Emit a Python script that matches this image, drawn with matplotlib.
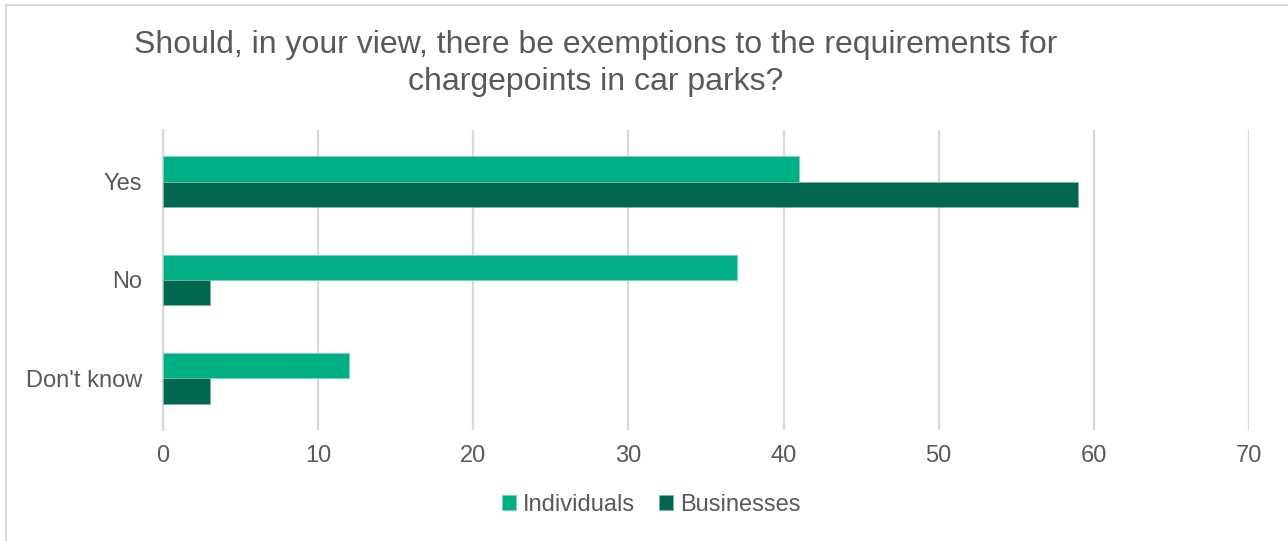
import numpy as np
import matplotlib.pyplot as plt
from matplotlib.patches import Rectangle

categories = ["Yes", "No", "Don't know"]
individuals = [41, 37, 12]
businesses = [59, 3, 3]
x_ticks = [0, 10, 20, 30, 40, 50, 60, 70]

light = "#00b084"
dark = "#02674f"
text_col = "#595959"

plt.rcParams['font.family'] = ['Liberation Sans', 'DejaVu Sans']

fig = plt.figure(figsize=(12.88, 5.41), dpi=100)
ax = fig.add_axes([163 / 1288, 1 - 430 / 541, (1249 - 163) / 1288, 300 / 541])

y = np.arange(len(categories))
h = 0.26
ax.barh(y - h / 2, individuals, height=h, color=light, edgecolor="#7fd3bd",
        linewidth=0.6, label="Individuals", zorder=3)
ax.barh(y + h / 2, businesses, height=h, color=dark, edgecolor="#7fb3a6",
        linewidth=0.6, label="Businesses", zorder=3)

ax.set_xlim(0, 70)
ax.set_ylim(2.53, -0.53)
ax.set_xticks(x_ticks)
ax.set_yticks(y)
ax.set_yticklabels(categories)
ax.tick_params(axis="both", length=0, labelsize=17, labelcolor=text_col)
ax.tick_params(axis="x", pad=11)
ax.tick_params(axis="y", pad=15)
ax.grid(axis="x", color="#d9d9d9", linewidth=1.6, zorder=0)
for s in ["top", "right", "bottom"]:
    ax.spines[s].set_visible(False)
ax.spines["left"].set_color("#d9d9d9")
ax.spines["left"].set_linewidth(1.6)

fig.text(596 / 1288, 1 - 45 / 541,
         "Should, in your view, there be exemptions to the requirements for",
         ha="center", va="center", fontsize=23, color=text_col)
fig.text(596 / 1288, 1 - 82 / 541, "chargepoints in car parks?",
         ha="center", va="center", fontsize=23, color=text_col)

fig.legend(loc="center", bbox_to_anchor=(651 / 1288, 1 - 505 / 541), ncol=2,
           frameon=False, fontsize=17, labelcolor=text_col, handlelength=0.6,
           handleheight=0.6, handletextpad=0.3, columnspacing=1.0)

# outer chart border
fig.add_artist(Rectangle((6 / 1288, -0.01), 1.2, 1 - 5 / 541 + 0.01,
                         transform=fig.transFigure, fill=False,
                         edgecolor="#d9d9d9", linewidth=1.5))

fig.savefig("out.png", dpi=100)
